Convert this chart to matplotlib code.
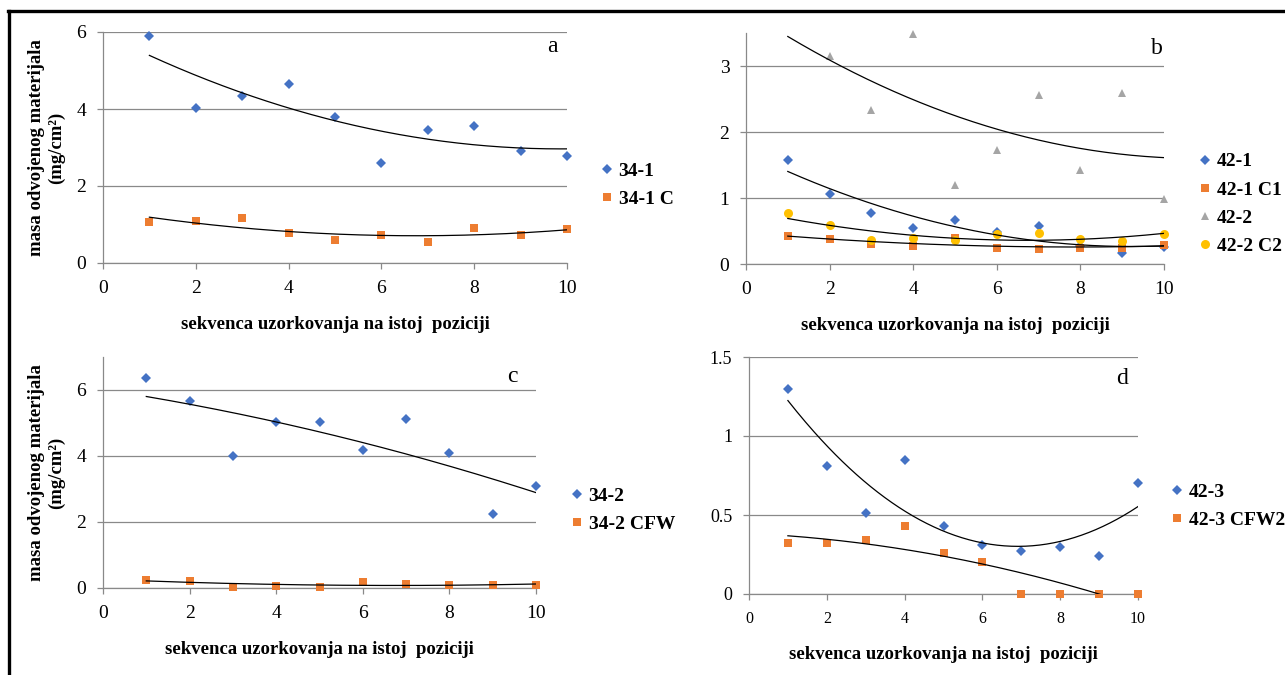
import numpy as np
import matplotlib
matplotlib.use('Agg')
from matplotlib import pyplot as plt
from matplotlib.lines import Line2D

plt.rcParams['font.family'] = ['Liberation Serif', 'DejaVu Serif']

W, H = 1285, 675
seq = [1, 2, 3, 4, 5, 6, 7, 8, 9, 10]

# panel a
s34_1 = [5.90, 4.03, 4.35, 4.66, 3.80, 2.60, 3.46, 3.56, 2.92, 2.79]
s34_1C = [1.06, 1.09, 1.17, 0.78, 0.61, 0.73, 0.55, 0.91, 0.73, 0.88]
# panel b
s42_1 = [1.57, 1.06, 0.78, 0.54, 0.66, 0.48, 0.58, 0.28, 0.16, 0.26]
s42_1C1 = [0.43, 0.38, 0.31, 0.27, 0.40, 0.25, 0.23, 0.25, 0.25, 0.29]
s42_2 = [3.54, 3.15, 2.33, 3.48, 1.20, 1.73, 2.56, 1.42, 2.59, 0.99]   # first point lies above the axis max
s42_2C2 = [0.77, 0.59, 0.36, 0.39, 0.36, 0.45, 0.47, 0.38, 0.35, 0.45]
# panel c
s34_2 = [6.35, 5.67, 4.00, 5.02, 5.03, 4.17, 5.13, 4.10, 2.25, 3.08]
s34_2CFW = [0.25, 0.22, 0.03, 0.07, 0.03, 0.18, 0.13, 0.09, 0.09, 0.09]
# panel d
s42_3 = [1.30, 0.81, 0.51, 0.85, 0.43, 0.31, 0.27, 0.30, 0.24, 0.70]
s42_3CFW2 = [0.32, 0.32, 0.34, 0.43, 0.26, 0.20, 0.0, 0.0, 0.0, 0.0]

xlab = 'sekvenca uzorkovanja na istoj  poziciji'
ylab = 'masa odvojenog materijala\n(mg/cm²)'

# marker styles: blue diamond, orange square, gray triangle, yellow circle
styles = [('D', '#4472C4', 5.0), ('s', '#ED7D31', 6.3), ('^', '#A5A5A5', 6.3), ('o', '#FFC000', 6.5)]
grid_c = '#898989'


def px(x, y):
    return x / W, 1 - y / H


def panel(box, ymax, yticks, series, names, letter, letter_xy, leg_xy, ylabel=False, xsize=14, ysize=14):
    l, t, r, b = box
    ax = fig.add_axes([l / W, 1 - b / H, (r - l) / W, (b - t) / H])
    handles = []
    for y, nm, (mk, col, ms) in zip(series, names, styles):
        yy = np.ma.masked_greater(np.array(y), ymax)   # excel hides points above the axis max
        ax.plot(seq, yy, ls='none', marker=mk, color=col, ms=ms, mew=0, zorder=3, clip_on=False)
        handles.append(Line2D([], [], ls='none', marker=mk, color=col, ms=ms, mew=0))
    for y in series:                                  # 2nd order polynomial trend lines like excel
        p = np.polyfit(seq, y, 2)
        xs = np.linspace(1, 10, 200)
        ax.plot(xs, np.polyval(p, xs), color='k', lw=0.9, zorder=4)
    ax.set_xlim(0, 10)
    ax.set_ylim(0, ymax)
    ax.set_xticks([0, 2, 4, 6, 8, 10])
    ax.set_yticks(yticks)
    ax.set_yticklabels([('%g' % v) for v in yticks])
    ax.grid(axis='y', color=grid_c, lw=0.9)
    ax.set_axisbelow(True)
    for s in ['top', 'right']:
        ax.spines[s].set_visible(False)
    for s in ['left', 'bottom']:
        ax.spines[s].set_color(grid_c)
        ax.spines[s].set_linewidth(0.9)
    ax.tick_params(direction='out', length=4, width=0.9, color=grid_c, pad=8)
    ax.tick_params(axis='x', labelsize=xsize)
    ax.tick_params(axis='y', labelsize=ysize)
    ax.set_xlabel(xlab, fontsize=13.5, fontweight='bold', labelpad=14)
    if ylabel:
        ax.set_ylabel(ylab, fontsize=13.5, fontweight='bold', labelpad=8, linespacing=1.2)
    fx, fy = px(*letter_xy)
    fig.text(fx, fy, letter, fontsize=17, ha='center', va='center')
    lx, ly = px(*leg_xy)
    ax.legend(handles, names, loc='center left', bbox_to_anchor=(lx, ly), bbox_transform=fig.transFigure,
              frameon=False, prop={'weight': 'bold', 'size': 14}, handlelength=0.55, handletextpad=0.3,
              borderpad=0, borderaxespad=0, labelspacing=0.55)
    return ax


fig = plt.figure(figsize=(W / 100, H / 100), dpi=100)

panel((103, 32, 567, 263), 6, [0, 2, 4, 6], [s34_1, s34_1C], ['34-1', '34-1 C'],
      'a', (552, 46), (602, 185), ylabel=True)
panel((746, 33, 1164, 264), 3.5, [0, 1, 2, 3], [s42_1, s42_1C1, s42_2, s42_2C2],
      ['42-1', '42-1 C1', '42-2', '42-2 C2'], 'b', (1157, 48), (1200, 204))
panel((103, 357, 536, 588), 7, [0, 2, 4, 6], [s34_2, s34_2CFW], ['34-2', '34-2 CFW'],
      'c', (512, 377), (572, 510), ylabel=True)
panel((749, 357, 1138, 594), 1.5, [0, 0.5, 1, 1.5], [s42_3, s42_3CFW2], ['42-3', '42-3 CFW2'],
      'd', (1122, 378), (1172, 506), xsize=11.5, ysize=13)

# black frame lines on top and left, as in the source picture
fig.add_artist(Line2D([8 / W, 1], [1 - 11 / H, 1 - 11 / H], color='k', lw=2.4, transform=fig.transFigure))
fig.add_artist(Line2D([9 / W, 9 / W], [0, 1 - 11 / H], color='k', lw=2.4, transform=fig.transFigure))

fig.savefig('out.png', dpi=100)
